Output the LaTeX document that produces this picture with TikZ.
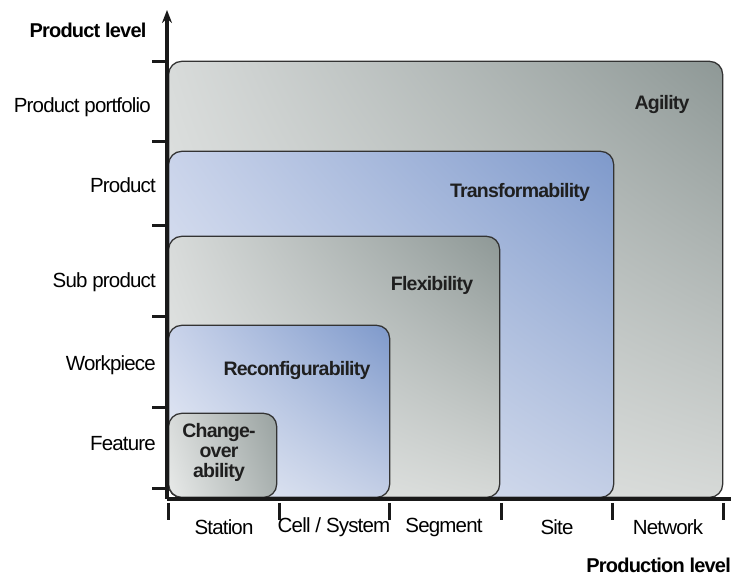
\documentclass[tikz,border=0pt]{standalone}
\usepackage{fontspec}
\setmainfont{Liberation Sans}[LetterSpace=-4]
\usetikzlibrary{arrows.meta,shadings}
\definecolor{edge}{HTML}{333333}
\tikzset{
  box/.style={draw=edge, line width=1.3pt, rounded corners=13pt, anchor=south west, inner sep=0pt},
  lbl/.style={font=\fontsize{20.5}{22}\selectfont, text=black, inner sep=0pt},
  blbl/.style={font=\fontsize{19.5}{21}\selectfont\bfseries, text=black!88, inner sep=0pt, align=center},
  axisline/.style={line width=3.2pt, draw=black!90},
  tickline/.style={line width=3pt, draw=black!90},
}
\definecolor{gUL}{HTML}{D8DBDA}
\definecolor{gUR}{HTML}{8E9896}
\definecolor{gLL}{HTML}{E8EAE9}
\definecolor{gLR}{HTML}{D6D9D7}
\definecolor{bUL}{HTML}{C9D3EA}
\definecolor{bUR}{HTML}{7E99CB}
\definecolor{bLL}{HTML}{EEF1F8}
\definecolor{bLR}{HTML}{C4CFE6}
\begin{document}
\begin{tikzpicture}[x=1pt,y=-1pt]
\useasboundingbox (0,0) rectangle (732,577);
% boxes
\node[box, upper left=gUL, upper right=gUR, lower left=gLL, lower right=gLR,
      minimum width=554pt, minimum height=436pt] (agility) at (168,498) {};
\node[box, upper left=bUL, upper right=bUR, lower left=bLL, lower right=bLR,
      minimum width=445pt, minimum height=346pt] (transf) at (168,498) {};
\node[box, upper left=gUL, upper right=gUR, lower left=gLL, lower right=gLR,
      minimum width=331pt, minimum height=261pt] (flex) at (168,498) {};
\node[box, upper left=bUL, upper right=bUR, lower left=bLL, lower right=bLR,
      minimum width=221pt, minimum height=172pt] (reconf) at (168,498) {};
\node[box, upper left=gUL, upper right=gUR!90!white, lower left=gLL, lower right=gUR!75!white,
      minimum width=108pt, minimum height=84pt] (change) at (168,498) {};
% box labels
\node[blbl] (lagility) at (662,105) {Agility};
\node[blbl] (ltransf) at (520,192) {Transformability};
\node[blbl] (lflex) at (432,285) {Flexibility};
\node[blbl] (lreconf) at (297,371) {Reconfigurability};
\node[blbl, font=\fontsize{19.5}{20}\selectfont\bfseries] (lchange) at (219,452) {Change-\\over\\ability};
% axes
\coordinate (origin) at (167,499);
\coordinate (ytop) at (167,10);
\coordinate (xend) at (731,499);
\draw[axisline, -{Stealth[length=13pt,width=10pt]}] (origin) -- (ytop);
\draw[axisline] (origin) -- (xend);
% y ticks
\foreach \y/\n in {62/t1,142/t2,226/t3,317/t4,408/t5,489/t6}{
  \coordinate (\n) at (152,\y);
  \draw[tickline] (\n) -- ++(15,0);
}
% x ticks
\foreach \x/\n in {168/u1,279/u2,389/u3,501/u4,612/u5,723/u6}{
  \coordinate (\n) at (\x,503);
  \draw[tickline] (\n) -- ++(0,17);
}
% axis labels
\node[lbl, font=\fontsize{20}{22}\selectfont\bfseries] (plevel) at (88,30) {Product level};
\node[lbl, font=\fontsize{20}{22}\selectfont\bfseries, anchor=east] (prlevel) at (731,565) {Production level};
\node[lbl, anchor=east] (ypp) at (151,107) {Product portfolio};
\node[lbl, anchor=east] (yp) at (156,185) {Product};
\node[lbl, anchor=east] (ysp) at (156,282) {Sub product};
\node[lbl, anchor=east] (ywp) at (156,365) {Workpiece};
\node[lbl, anchor=east] (yf) at (156,444) {Feature};
\node[lbl] (xst) at (224,527) {Station};
\node[lbl] (xcs) at (334,527) {Cell / System};
\node[lbl] (xseg) at (444,527) {Segment};
\node[lbl] (xsite) at (557,527) {Site};
\node[lbl] (xnet) at (668,527) {Network};
\end{tikzpicture}
\end{document}
